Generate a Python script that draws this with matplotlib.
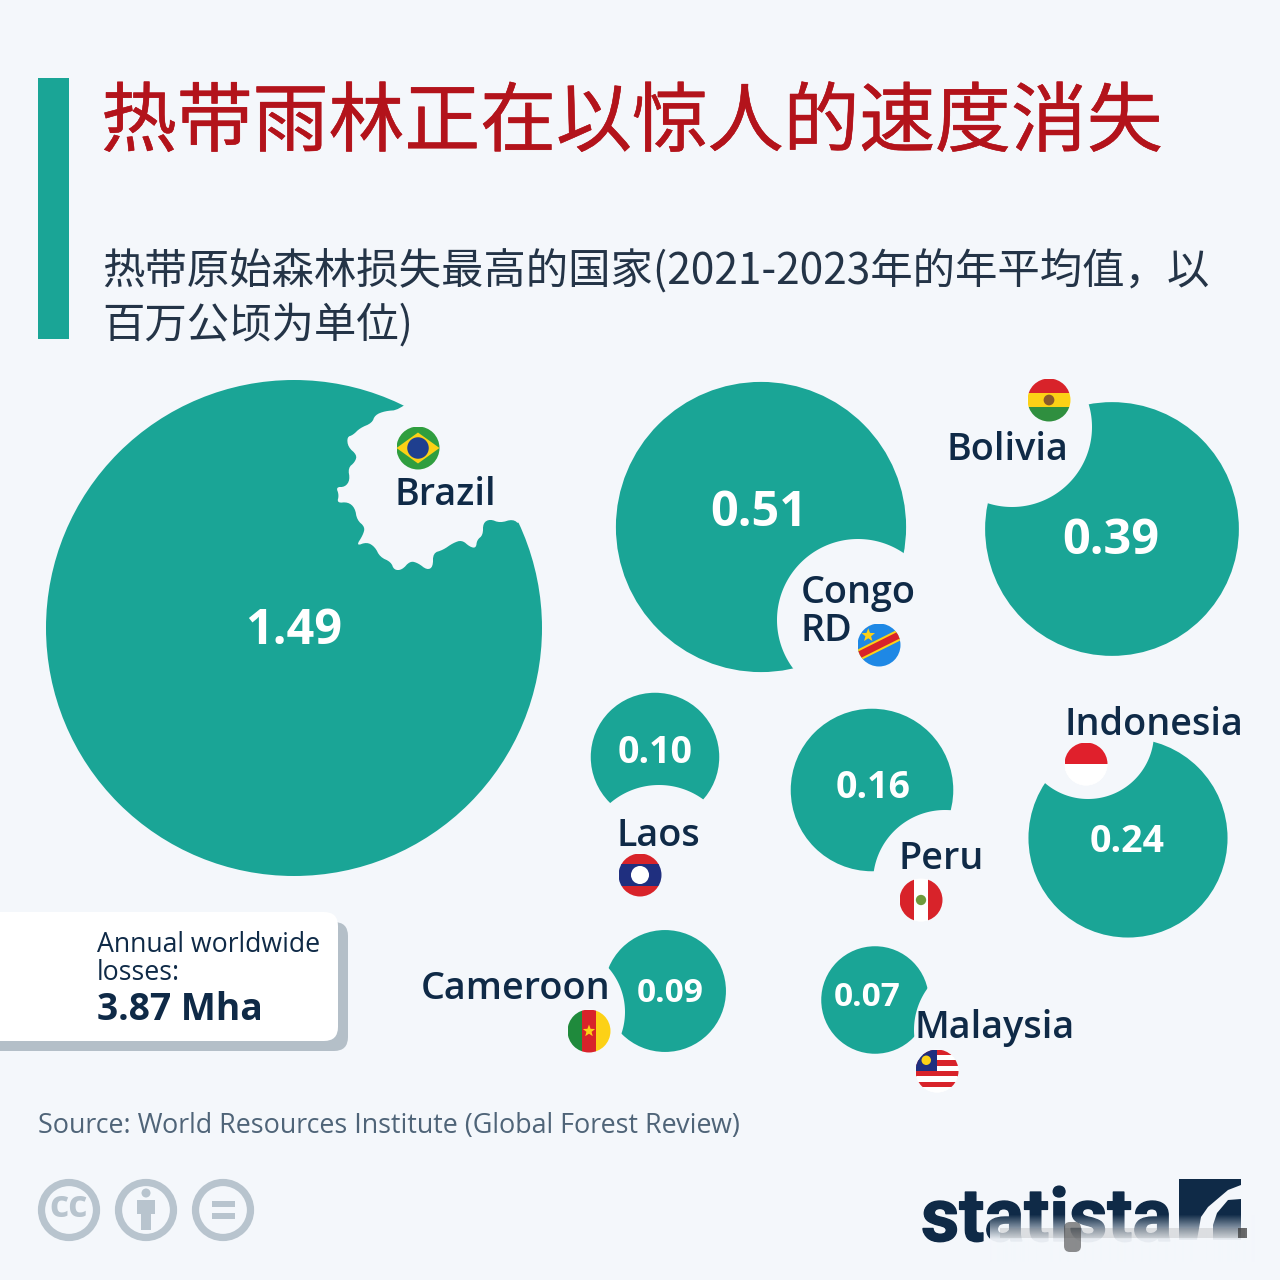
import numpy as np
import matplotlib
matplotlib.use("Agg")
import matplotlib.pyplot as plt
import matplotlib.patches as patches
import matplotlib.patheffects as path_effects
from matplotlib import font_manager
from matplotlib.colors import to_rgb
from matplotlib.path import Path

# data
COUNTRIES = ["Brazil", "Congo\nRD", "Bolivia", "Indonesia", "Peru", "Laos", "Cameroon", "Malaysia"]
LOSSES = [1.49, 0.51, 0.39, 0.24, 0.16, 0.10, 0.09, 0.07]
TOTAL_LABEL = "3.87 Mha"

TITLE = "热带雨林正在以惊人的速度消失"
SUBTITLE_1 = "热带原始森林损失最高的国家(2021-2023年的年平均值，以"
SUBTITLE_2 = "百万公顷为单位)"
SOURCE = "Source: World Resources Institute (Global Forest Review)"

# layout, in pixels of the 1280 x 1280 picture
CENTERS = [(294, 628), (761, 527), (1112, 529), (1128, 838), (872, 790), (655, 757), (665, 991), (875, 1000)]
BITES = [None, (858, 620, 81), (1012, 427, 80), (1088, 733, 66), (945, 882, 72), (659, 860, 75), (558, 1012, 67), (985, 1030, 71)]
VALUE_POS = [(294, 631), (759, 513), (1111, 541), (1127, 842), (873, 788), (655, 753), (670, 993), (867, 997)]
VALUE_SIZE = [35, 35, 35, 27, 27, 27, 24, 24]
LABEL_POS = [(394, 495), (801, 612), (946, 450), (1064, 725), (898, 859), (617, 836), (421, 989), (914, 1028)]
FLAG_POS = [(418, 448), (879, 645), (1049, 400), (1086, 764), (921, 900), (640, 875), (589, 1031), (937, 1071)]
FLAG_R = 21.5
R_SCALE = 248 / np.sqrt(1.49)

# edge of the Brazil cut-out
GEAR_EDGE = [(399, 410), (385, 411), (375, 415), (372, 423), (360, 428), (353, 435), (347, 437), (348, 447),
             (357, 455), (355, 462), (348, 468), (350, 480), (345, 487), (336, 487), (339, 495), (337, 503),
             (348, 502), (355, 508), (357, 520), (365, 527), (363, 535), (356, 546), (367, 542), (375, 547),
             (380, 557), (391, 562), (394, 570), (402, 570), (410, 561), (418, 563), (427, 570), (433, 567),
             (433, 553), (443, 550), (453, 543), (462, 540), (470, 547), (476, 548), (477, 540), (483, 535),
             (483, 523), (490, 519), (500, 523), (513, 519), (520, 525), (545, 500), (500, 400), (420, 392)]

TEAL = "#1aa596"
BG = "#f4f7fb"
NAVY = "#0f2a47"
GREY = "#b8c4ce"
LATIN = "Open Sans"

# the CJK collections may register under one language name only
_names = {f.name for f in font_manager.fontManager.ttflist}
CJK = next((n for n in ["Noto Sans CJK SC", "Noto Sans CJK TC", "Noto Sans CJK JP", "Noto Sans CJK KR"] if n in _names),
           next((n for n in sorted(_names) if "CJK" in n), "DejaVu Sans"))


def star(cx, cy, r, color):
    ang = np.pi / 2 + np.arange(10) * np.pi / 5
    rad = np.where(np.arange(10) % 2 == 0, r, r * 0.42)
    return patches.Polygon(np.c_[cx + rad * np.cos(ang), cy - rad * np.sin(ang)], color=color, lw=0, zorder=6)


def clip_add(ax, clip, patch):
    ax.add_patch(patch)
    patch.set_clip_path(clip)


def stripes(ax, clip, x, y, r, colors, vertical=False):
    n = len(colors)
    for i, c in enumerate(colors):
        if vertical:
            p = patches.Rectangle((x - r + i * 2 * r / n, y - r), 2 * r / n + 0.3, 2 * r, color=c, lw=0, zorder=5)
        else:
            p = patches.Rectangle((x - r, y - r + i * 2 * r / n), 2 * r, 2 * r / n + 0.3, color=c, lw=0, zorder=5)
        clip_add(ax, clip, p)


def draw_flag(ax, name, x, y, r=FLAG_R):
    clip = patches.Circle((x, y), r, color="white", lw=0, zorder=4)
    ax.add_patch(clip)
    if name == "Brazil":
        stripes(ax, clip, x, y, r, ["#2f9e3f"])
        ax.add_patch(patches.Polygon([(x - r, y), (x, y - r * 0.72), (x + r, y), (x, y + r * 0.72)], color="#fcd116", lw=0, zorder=6))
        ax.add_patch(patches.Circle((x, y), r * 0.5, color="#1f3f8f", lw=0, zorder=7))
    elif name.startswith("Congo"):
        stripes(ax, clip, x, y, r, ["#1e88e5"])
        for width, c in [(11, "#fcd116"), (7, "#d8232a")]:
            xs = np.array([x - 1.2 * r, x + 1.2 * r])
            ys = np.array([y + 0.6 * r, y - 0.6 * r])
            line = ax.plot(xs, ys, color=c, lw=width * 0.72, zorder=6, solid_capstyle="butt")[0]
            line.set_clip_path(clip)
        ax.add_patch(star(x - r * 0.5, y - r * 0.45, r * 0.33, "#fcd116"))
    elif name == "Bolivia":
        stripes(ax, clip, x, y, r, ["#d8232a", "#fcd116", "#2f8f3f"])
        ax.add_patch(patches.Circle((x, y), r * 0.25, color="#8a5a2b", lw=0, zorder=6))
    elif name == "Indonesia":
        stripes(ax, clip, x, y, r, ["#e0202c", "#ffffff"])
    elif name == "Peru":
        stripes(ax, clip, x, y, r, ["#d8232a", "#ffffff", "#d8232a"], vertical=True)
        ax.add_patch(patches.Circle((x, y), r * 0.24, color="#6f9a3c", lw=0, zorder=6))
    elif name == "Laos":
        stripes(ax, clip, x, y, r, ["#d8232a", "#1f2f7f", "#1f2f7f", "#d8232a"])
        ax.add_patch(patches.Circle((x, y), r * 0.42, color="white", lw=0, zorder=6))
    elif name == "Cameroon":
        stripes(ax, clip, x, y, r, ["#1f8a3c", "#d8232a", "#fcd116"], vertical=True)
        ax.add_patch(star(x, y, r * 0.3, "#fcd116"))
    elif name == "Malaysia":
        stripes(ax, clip, x, y, r, ["#d8232a", "#ffffff"] * 4)
        clip_add(ax, clip, patches.Rectangle((x - r, y - r), r, r, color="#1f2f7f", lw=0, zorder=6))
        ax.add_patch(patches.Circle((x - r * 0.5, y - r * 0.5), r * 0.22, color="#fcd116", lw=0, zorder=7))


def smooth(points, rounds=2):
    # corner cutting, so the traced edge is not jagged
    pts = np.array(points, dtype=float)
    for _ in range(rounds):
        nxt = np.roll(pts, -1, axis=0)
        pts = np.c_[0.75 * pts + 0.25 * nxt, 0.25 * pts + 0.75 * nxt].reshape(-1, 2)
    return pts


def mask_path(hole):
    # a big square with the cut-out as a hole in it, used as a clip
    area = (hole[:, 0] * np.roll(hole[:, 1], -1) - np.roll(hole[:, 0], -1) * hole[:, 1]).sum()
    if area > 0:
        hole = hole[::-1]
    outer = np.array([(-50, -50), (1330, -50), (1330, 1330), (-50, 1330)], dtype=float)
    verts = np.r_[outer, outer[:1], hole, hole[:1]]
    codes = [Path.MOVETO] + [Path.LINETO] * 3 + [Path.CLOSEPOLY]
    codes += [Path.MOVETO] + [Path.LINETO] * (len(hole) - 1) + [Path.CLOSEPOLY]
    return Path(verts, codes)


def circle_points(x, y, r):
    theta = np.linspace(0, 2 * np.pi, 240, endpoint=False)
    return np.c_[x + r * np.cos(theta), y + r * np.sin(theta)]


def draw_logo(ax):
    text = ax.text(921, 1241, "statista", color=NAVY, fontfamily=["Liberation Sans Narrow", "Roboto"], fontweight="bold",
                   fontsize=53.5, va="baseline", ha="left", zorder=3)
    text.set_path_effects([path_effects.withStroke(linewidth=1.0, foreground=NAVY)])
    ax.add_patch(patches.Polygon([(1179, 1179), (1241, 1179), (1241, 1185), (1228, 1190), (1208, 1207), (1201, 1217),
                                  (1197, 1240), (1179, 1240)], color=NAVY, lw=0, zorder=3))
    ax.add_patch(patches.Polygon([(1241, 1199), (1228, 1200), (1217, 1213), (1213, 1225), (1213, 1240), (1241, 1240)],
                 color=NAVY, lw=0, zorder=3))
    # the lower part of the logo is smeared out in the source
    fade = np.clip((np.arange(50) - 2) / 26.0, 0, 1)
    img = np.zeros((50, 1, 4))
    img[:, 0, :3] = to_rgb(BG)
    img[:, 0, 3] = np.minimum(fade, 0.95)
    ax.imshow(img, extent=(990, 1255, 1262, 1212), aspect="auto", zorder=4, interpolation="bilinear")
    ax.add_patch(patches.Rectangle((1000, 1228), 245, 10, color="#888888", alpha=0.22, lw=0, zorder=5))
    ax.add_patch(patches.Rectangle((1238, 1228), 9, 10, color="#333333", alpha=0.7, lw=0, zorder=5))
    ax.add_patch(patches.FancyBboxPatch((1064, 1222), 17, 30, boxstyle="round,pad=0,rounding_size=6", color="#333333", alpha=0.55, lw=0, zorder=5))


def draw_cc(ax):
    for x in [69, 146, 223]:
        ax.add_patch(patches.Circle((x, 1210), 27.5, fill=False, ec=GREY, lw=5.2, zorder=3))
    ax.text(69, 1207, "cc", color=GREY, fontfamily=LATIN, fontweight="bold", fontsize=27, ha="center", va="center", zorder=3)
    ax.add_patch(patches.Circle((146, 1193), 4.5, color=GREY, lw=0, zorder=3))
    ax.add_patch(patches.Rectangle((137, 1200), 18, 14, color=GREY, lw=0, zorder=3))
    ax.add_patch(patches.Rectangle((141, 1200), 10, 30, color=GREY, lw=0, zorder=3))
    ax.add_patch(patches.Rectangle((212, 1201), 23, 6, color=GREY, lw=0, zorder=3))
    ax.add_patch(patches.Rectangle((212, 1213), 23, 6, color=GREY, lw=0, zorder=3))


fig = plt.figure(figsize=(12.8, 12.8), dpi=100, facecolor=BG)
ax = fig.add_axes([0, 0, 1, 1])
ax.set_xlim(0, 1280)
ax.set_ylim(1280, 0)
ax.axis("off")

ax.add_patch(patches.Rectangle((38, 78), 31, 261, color=TEAL, lw=0))
title = ax.text(101, 124, TITLE, color="#b3131b", fontfamily=CJK, fontsize=54.6, ha="left", va="center")
title.set_path_effects([path_effects.withStroke(linewidth=0.4, foreground="#b3131b")])
ax.text(102, 272, SUBTITLE_1, color="#243447", fontfamily=CJK, fontsize=30.55, ha="left", va="center")
ax.text(102, 326, SUBTITLE_2, color="#243447", fontfamily=CJK, fontsize=30.55, ha="left", va="center")

for i, name in enumerate(COUNTRIES):
    r = R_SCALE * np.sqrt(LOSSES[i])
    bubble = patches.Circle(CENTERS[i], r, color=TEAL, lw=0, zorder=1)
    ax.add_patch(bubble)
    hole = circle_points(*BITES[i]) if BITES[i] is not None else smooth(GEAR_EDGE)
    bubble.set_clip_path(mask_path(hole), ax.transData)
    vx, vy = VALUE_POS[i]
    ax.text(vx, vy, f"{LOSSES[i]:.2f}", color="white", fontfamily=LATIN, fontweight="bold", fontsize=VALUE_SIZE[i],
            ha="center", va="center", zorder=3)
    lx, ly = LABEL_POS[i]
    ax.text(lx, ly, name, color=NAVY, fontfamily=LATIN, fontweight=600, fontsize=27.2, ha="left", va="center",
            linespacing=1.0, zorder=3)
    draw_flag(ax, name, *FLAG_POS[i])

# total card
ax.add_patch(patches.FancyBboxPatch((-30, 922), 378, 129, boxstyle="round,pad=0,rounding_size=14", color="#b4bfc8", lw=0, zorder=2))
ax.add_patch(patches.FancyBboxPatch((-30, 912), 368, 129, boxstyle="round,pad=0,rounding_size=14", color="white", lw=0, zorder=3))
ax.text(97, 959, "Annual worldwide\nlosses:", color=NAVY, fontfamily=LATIN, fontsize=19.15, ha="left", va="center", linespacing=1.0, zorder=4)
ax.text(97, 1010, TOTAL_LABEL, color=NAVY, fontfamily=LATIN, fontweight="bold", fontsize=26.8, ha="left", va="center", zorder=4)

ax.text(38, 1126, SOURCE, color="#4f6478", fontfamily=LATIN, fontsize=19.35, ha="left", va="center")
draw_cc(ax)
draw_logo(ax)

# imshow resets the limits
ax.set_xlim(0, 1280)
ax.set_ylim(1280, 0)
fig.savefig("out.png", dpi=100, facecolor=BG)
